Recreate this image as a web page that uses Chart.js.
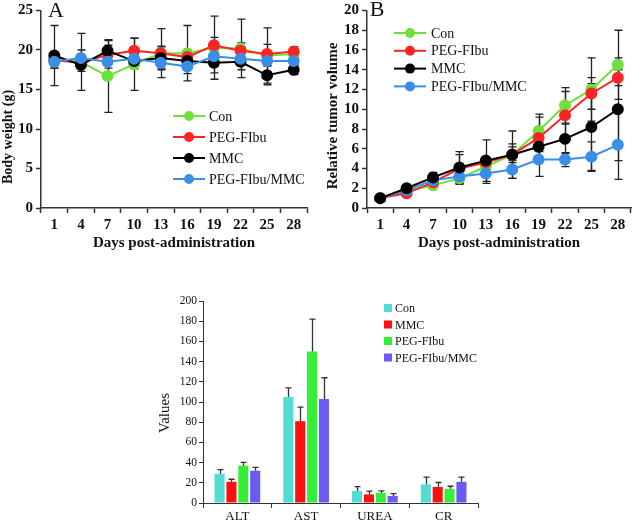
<!DOCTYPE html>
<html lang="en">
<head>
  <meta charset="UTF-8" />
  <title>Body weight, tumor volume and serum biochemistry</title>
  <script src="https://cdn.jsdelivr.net/npm/chart.js"></script>
  <style>
    html, body {
      margin: 0;
      padding: 0;
      background: #fff;
      overflow: hidden;
    }
    body {
      position: relative;
      width: 638px;
      height: 523px;
    }
    canvas {
      position: absolute;
    }
    #chartA { left: 0; top: 0; }
    #chartB { left: 318px; top: 0; }
    #chartC { left: 140px; top: 290px; }
  </style>
</head>
<body>
  <canvas id="chartA" width="318" height="260"></canvas>
  <canvas id="chartB" width="320" height="260"></canvas>
  <canvas id="chartC" width="400" height="240"></canvas>

  <script>
    // ---- data ----
    const days = ['1', '4', '7', '10', '13', '16', '19', '22', '25', '28'];

    // A: body weight (g), mean and sd
    const weightCon     = [18.8, 18.5, 16.7, 18.2, 19.6, 19.6, 20.3, 20.2, 19.3, 19.5];
    const weightPeg     = [18.7, 18.4, 19.4, 19.9, 19.6, 19.1, 20.6, 19.9, 19.5, 19.8];
    const weightMmc     = [19.3, 18.1, 19.9, 18.6, 19.0, 18.6, 18.4, 18.5, 16.8, 17.5];
    const weightCombo   = [18.5, 19.0, 18.5, 18.9, 18.4, 17.9, 19.2, 18.9, 18.6, 18.6];
    const weightConSd   = [0.8, 3.6, 4.6, 3.3, 3.1, 3.5, 4.0, 3.7, 3.5, 0.6];
    const weightPegSd   = [1.0, 0.6, 1.2, 1.6, 0.8, 0.9, 1.0, 1.0, 1.2, 0.6];
    const weightMmcSd   = [3.8, 0.8, 1.3, 1.0, 1.5, 1.0, 1.3, 1.0, 1.2, 0.6];
    const weightComboSd = [0.8, 1.0, 0.8, 0.7, 0.7, 0.9, 1.3, 0.8, 0.6, 0.5];

    // B: relative tumor volume, mean and sd
    const volCon     = [1.0, 1.7, 2.3, 3.0, 4.2, 5.4, 7.8, 10.4, 12.0, 14.5];
    const volPeg     = [1.0, 1.5, 2.6, 4.0, 4.6, 5.4, 7.1, 9.4, 11.6, 13.2];
    const volMmc     = [1.0, 2.0, 3.1, 4.1, 4.8, 5.4, 6.2, 7.0, 8.2, 10.0];
    const volCombo   = [1.0, 1.8, 2.8, 3.2, 3.5, 3.9, 4.9, 4.9, 5.2, 6.4];
    const volConSd   = [0.1, 0.2, 0.3, 0.6, 0.5, 2.4, 1.7, 1.8, 3.2, 3.5];
    const volPegSd   = [0.1, 0.2, 0.3, 1.4, 0.5, 1.1, 2.1, 2.4, 1.6, 0.8];
    const volMmcSd   = [0.1, 0.2, 0.5, 1.6, 2.1, 0.8, 0.5, 1.5, 4.4, 5.2];
    const volComboSd = [0.1, 0.2, 0.3, 0.7, 1.0, 0.9, 1.7, 0.7, 1.5, 3.5];

    // C: serum biochemistry
    const tests       = ['ALT', 'AST', 'UREA', 'CR'];
    const bioCon      = [29, 105, 12, 18.5];
    const bioMmc      = [21, 81, 8.5, 16];
    const bioPeg      = [37, 150, 10, 14];
    const bioCombo    = [32, 103, 7, 21];
    const bioConSd    = [4, 9, 4.2, 7.2];
    const bioMmcSd    = [2.5, 14, 3.3, 4.3];
    const bioPegSd    = [3.3, 32, 2, 2.6];
    const bioComboSd  = [3.3, 21, 2.3, 4.6];

    const SERIF = "'Liberation Serif', 'Times New Roman', serif";
    const AXIS = '#333';

    // ---- small plugins ----
    function errorBars(cfg) {
      function draw(chart) {
        const ctx = chart.ctx;
        const y = chart.scales.y;
        chart.data.datasets.forEach((ds, di) => {
          if (!ds.errors) return;
          const meta = chart.getDatasetMeta(di);
          ctx.save();
          ctx.strokeStyle = cfg.color;
          ctx.lineWidth = cfg.width;
          meta.data.forEach((el, i) => {
            const v = ds.data[i], e = ds.errors[i];
            const x = Math.round(el.x) + 0.5;
            const top = y.getPixelForValue(v + e);
            const bot = y.getPixelForValue(cfg.upOnly ? v : v - e);
            ctx.beginPath();
            ctx.moveTo(x, top);
            ctx.lineTo(x, bot);
            ctx.moveTo(x - cfg.cap, top);
            ctx.lineTo(x + cfg.cap, top);
            if (!cfg.upOnly) {
              ctx.moveTo(x - cfg.cap, bot);
              ctx.lineTo(x + cfg.cap, bot);
            }
            ctx.stroke();
          });
          ctx.restore();
        });
      }
      return cfg.behind
        ? { id: 'errorBars', beforeDatasetsDraw: draw }
        : { id: 'errorBars', afterDatasetsDraw: draw };
    }

    function insideLegend(cfg) {
      return {
        id: 'insideLegend',
        afterDraw(chart) {
          const ctx = chart.ctx;
          ctx.save();
          ctx.font = cfg.font;
          ctx.textBaseline = 'middle';
          chart.data.datasets.forEach((ds, i) => {
            const y = cfg.y + i * cfg.row;
            if (cfg.kind === 'line') {
              ctx.strokeStyle = ds.borderColor;
              ctx.lineWidth = ds.borderWidth;
              ctx.beginPath();
              ctx.moveTo(cfg.x, y);
              ctx.lineTo(cfg.x + cfg.len, y);
              ctx.stroke();
              ctx.fillStyle = ds.pointBackgroundColor;
              ctx.beginPath();
              ctx.arc(cfg.x + cfg.len / 2, y, ds.pointRadius, 0, Math.PI * 2);
              ctx.fill();
            } else {
              ctx.fillStyle = ds.backgroundColor;
              ctx.fillRect(cfg.x, y - cfg.len / 2, cfg.len, cfg.len);
            }
            ctx.fillStyle = '#111';
            ctx.fillText(ds.label, cfg.x + cfg.len + cfg.gap, y + 1);
          });
          ctx.restore();
        }
      };
    }

    function panelText(items) {
      return {
        id: 'panelText',
        afterDraw(chart) {
          const ctx = chart.ctx;
          items.forEach(t => {
            ctx.save();
            ctx.translate(t.x, t.y);
            ctx.rotate(t.rot || 0);
            ctx.font = t.font;
            ctx.fillStyle = '#111';
            ctx.textAlign = 'center';
            ctx.textBaseline = 'middle';
            ctx.fillText(t.text, 0, 0);
            ctx.restore();
          });
        }
      };
    }

    function lineSet(label, data, errors, color, order) {
      return {
        label, data, errors, order,
        borderColor: color,
        backgroundColor: color,
        pointBackgroundColor: color,
        pointBorderColor: color,
        borderWidth: 2,
        pointRadius: 5,
        tension: 0
      };
    }

    function lineScales(yMax, yStep, yWidth, xHeight) {
      const boldTick = { family: SERIF, size: 15, weight: 'bold', lineHeight: 1 };
      return {
        x: {
          type: 'category',
          offset: true,
          afterFit(s) { s.height = xHeight; },
          grid: { offset: true, drawOnChartArea: false, tickLength: 5, color: AXIS, tickWidth: 1.5 },
          border: { color: AXIS, width: 1.5 },
          ticks: { color: '#111', font: boldTick, padding: 5, maxRotation: 0, autoSkip: false },
          title: {
            display: true,
            text: 'Days post-administration',
            color: '#111',
            font: { family: SERIF, size: 15, weight: 'bold', lineHeight: 1.2 },
            padding: { top: 0, bottom: 8 }
          }
        },
        y: {
          min: 0,
          max: yMax,
          afterFit(s) { s.width = yWidth; },
          grid: { drawOnChartArea: false, tickLength: 5, color: AXIS, tickWidth: 1.5 },
          border: { color: AXIS, width: 1.5 },
          ticks: { stepSize: yStep, color: '#111', font: boldTick, padding: 3 }
        }
      };
    }

    // ---- A: body weight ----
    new Chart(document.getElementById('chartA'), {
      type: 'line',
      data: {
        labels: days,
        datasets: [
          lineSet('Con', weightCon, weightConSd, '#6ee03c', 4),
          lineSet('PEG-FIbu', weightPeg, weightPegSd, '#ff2424', 3),
          lineSet('MMC', weightMmc, weightMmcSd, '#000000', 2),
          lineSet('PEG-FIbu/MMC', weightCombo, weightComboSd, '#3a8ee6', 1)
        ]
      },
      options: {
        responsive: false,
        animation: false,
        layout: { padding: { top: 9, right: 11, left: 0, bottom: 0 } },
        plugins: { legend: { display: false }, tooltip: { enabled: false } },
        scales: lineScales(25, 5, 41, 52)
      },
      plugins: [
        errorBars({ color: '#222', width: 1.3, cap: 4, behind: true }),
        insideLegend({ kind: 'line', x: 173, y: 116, row: 21, len: 32, gap: 4, font: '14px ' + SERIF }),
        panelText([
          { text: 'A', x: 56, y: 11, font: '22px ' + SERIF },
          { text: 'Body weight (g)', x: 8, y: 137, rot: -Math.PI / 2, font: 'bold 14px ' + SERIF }
        ])
      ]
    });

    // ---- B: relative tumor volume ----
    new Chart(document.getElementById('chartB'), {
      type: 'line',
      data: {
        labels: days,
        datasets: [
          lineSet('Con', volCon, volConSd, '#6ee03c', 4),
          lineSet('PEG-FIbu', volPeg, volPegSd, '#ff2424', 3),
          lineSet('MMC', volMmc, volMmcSd, '#000000', 1),
          lineSet('PEG-FIbu/MMC', volCombo, volComboSd, '#3a8ee6', 2)
        ]
      },
      options: {
        responsive: false,
        animation: false,
        layout: { padding: { top: 8, right: 2, left: 0, bottom: 0 } },
        plugins: { legend: { display: false }, tooltip: { enabled: false } },
        scales: lineScales(20, 2, 49, 52)
      },
      plugins: [
        errorBars({ color: '#222', width: 1.3, cap: 4, behind: true }),
        insideLegend({ kind: 'line', x: 76, y: 33, row: 17.8, len: 32, gap: 5, font: '14px ' + SERIF }),
        panelText([
          { text: 'B', x: 59, y: 10, font: '22px ' + SERIF },
          { text: 'Relative tumor volume', x: 15, y: 116, rot: -Math.PI / 2, font: 'bold 15px ' + SERIF }
        ])
      ]
    });

    // ---- C: biochemistry bars ----
    function barSet(label, data, errors, color) {
      return {
        label, data, errors,
        backgroundColor: color,
        borderWidth: 0,
        barPercentage: 0.85,
        categoryPercentage: 0.69
      };
    }

    new Chart(document.getElementById('chartC'), {
      type: 'bar',
      data: {
        labels: tests,
        datasets: [
          barSet('Con', bioCon, bioConSd, '#52dcd4'),
          barSet('MMC', bioMmc, bioMmcSd, '#ff1010'),
          barSet('PEG-FIbu', bioPeg, bioPegSd, '#36ee36'),
          barSet('PEG-FIbu/MMC', bioCombo, bioComboSd, '#6a5cf2')
        ]
      },
      options: {
        responsive: false,
        animation: false,
        layout: { padding: { top: 11, right: 62, left: 0, bottom: 0 } },
        plugins: { legend: { display: false }, tooltip: { enabled: false } },
        scales: {
          x: {
            afterFit(s) { s.height = 27; },
            grid: { offset: true, drawOnChartArea: false, tickLength: 5, color: AXIS },
            border: { color: AXIS, width: 1 },
            ticks: { color: '#111', font: { family: SERIF, size: 13, lineHeight: 1 }, padding: 2 }
          },
          y: {
            min: 0,
            max: 200,
            afterFit(s) { s.width = 63; },
            grid: { drawOnChartArea: false, tickLength: 4, color: AXIS },
            border: { color: AXIS, width: 1 },
            ticks: { stepSize: 20, color: '#111', font: { family: SERIF, size: 11.5, lineHeight: 1 }, padding: 2 }
          }
        }
      },
      plugins: [
        errorBars({ color: '#333', width: 1.3, cap: 3, upOnly: true }),
        insideLegend({ kind: 'box', x: 244, y: 18, row: 16.5, len: 8, gap: 3, font: '12px ' + SERIF }),
        panelText([
          { text: 'Values', x: 25, y: 123, rot: -Math.PI / 2, font: '15px ' + SERIF }
        ])
      ]
    });
  </script>
</body>
</html>
